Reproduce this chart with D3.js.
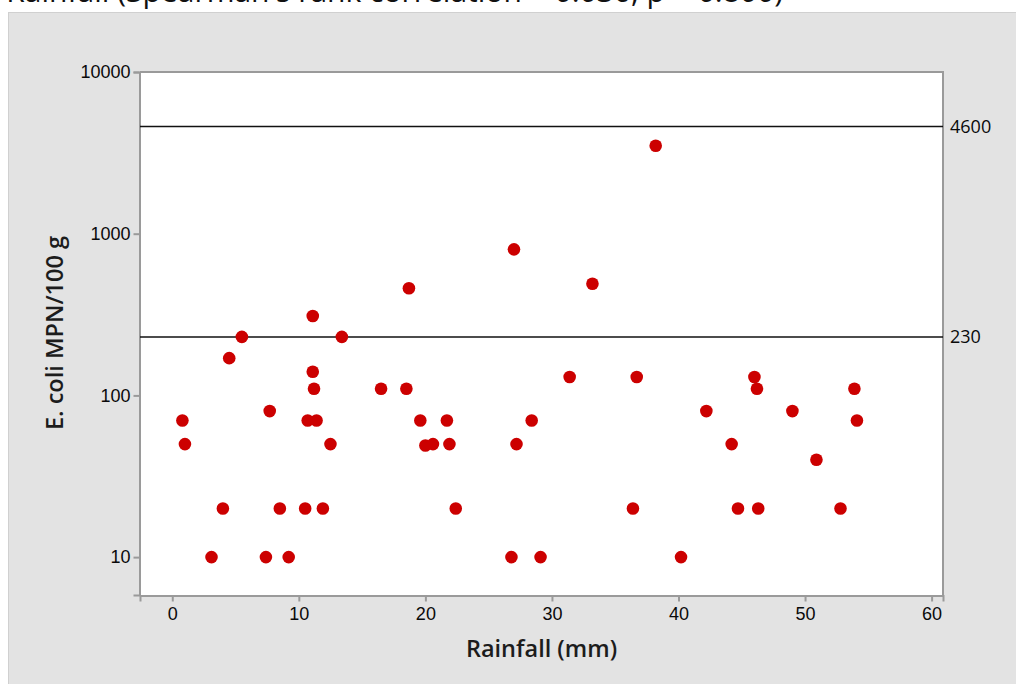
<!DOCTYPE html>
<html>
<head>
<meta charset="utf-8">
<script src="https://cdn.jsdelivr.net/npm/d3@7"></script>
<style>
  body { margin: 0; background: #fff; }
  svg { display: block; font-family: "Open Sans", "DejaVu Sans", sans-serif; }
  .tick text { font-size: 18px; fill: #0a0a0a; }
</style>
</head>
<body>
<div class="diagram"></div>
<script>
// rainfall (mm) and E. coli MPN/100 g
const rainfall = [0.8, 1.0, 3.1, 4.0, 4.5, 5.5, 7.4, 7.7, 8.5, 9.2,
  10.5, 10.7, 11.1, 11.1, 11.2, 11.4, 11.9, 12.5, 13.4, 16.5,
  18.5, 18.7, 19.6, 20.0, 20.6, 21.7, 21.9, 22.4, 26.8, 27.0,
  27.2, 28.4, 29.1, 31.4, 33.2, 36.4, 36.7, 38.2, 40.2, 42.2,
  44.2, 44.7, 46.0, 46.2, 46.3, 49.0, 50.9, 52.8, 53.9, 54.1];
const ecoli = [70, 50, 10, 20, 170, 230, 10, 80, 20, 10,
  20, 70, 310, 140, 110, 70, 20, 50, 230, 110,
  110, 460, 70, 49, 50, 70, 50, 20, 10, 800,
  50, 70, 10, 130, 490, 20, 130, 3500, 10, 80,
  50, 20, 130, 110, 20, 80, 40, 20, 110, 70];
const refLines = [4600, 230];
const xTicks = [0, 10, 20, 30, 40, 50, 60];
const yTicks = [10, 100, 1000, 10000];

const w = 1016, h = 684,
  pLeft = 140, pRight = 943, pTop = 72, pBottom = 595;

const svg = d3.select(".diagram")
  .append("svg")
  .attr("width", w)
  .attr("height", h);

// heading, cut off at the top edge as in the source picture
svg.append("text")
  .attr("x", 783)
  .attr("y", 1.5)
  .attr("text-anchor", "end")
  .style("font-size", "30px")
  .style("fill", "#111")
  .text("E. coli vs Rainfall (Spearman's rank correlation = 0.036, p = 0.800)");

// grey panel
svg.append("rect")
  .attr("x", 8.5)
  .attr("y", 12.5)
  .attr("width", w)
  .attr("height", h)
  .attr("fill", "#e3e3e3")
  .attr("stroke", "#d0d0d0");

const xScale = d3.scaleLinear()
  .domain([-2.55, 60.9])
  .range([pLeft, pRight]);
const yScale = d3.scaleLog()
  .domain([5.83, 10000])
  .range([pBottom, pTop]);

svg.append("rect")
  .attr("x", pLeft)
  .attr("y", pTop)
  .attr("width", pRight - pLeft)
  .attr("height", pBottom - pTop)
  .attr("fill", "#fff");

const xAxis = d3.axisBottom(xScale)
  .tickValues(xTicks)
  .tickFormat(d3.format("d"))
  .tickSizeOuter(0)
  .tickSize(6)
  .tickPadding(6);
const yAxis = d3.axisLeft(yScale)
  .tickValues(yTicks)
  .tickFormat(d3.format("d"))
  .tickSizeOuter(0)
  .tickSize(6)
  .tickPadding(3);

svg.append("g")
  .attr("transform", "translate(0," + (pBottom + 0.5) + ")")
  .call(xAxis)
  .call(g => g.selectAll("line, path").attr("stroke", "#9a9a9a").attr("stroke-width", 2));
svg.append("g")
  .attr("transform", "translate(" + (pLeft - 0.5) + ",0)")
  .call(yAxis)
  .call(g => g.selectAll("line, path").attr("stroke", "#9a9a9a").attr("stroke-width", 2));

// right and top border
svg.append("path")
  .attr("d", "M" + pLeft + "," + pTop + "H" + pRight + "V" + pBottom)
  .attr("fill", "none")
  .attr("stroke", "#9a9a9a")
  .attr("stroke-width", 2);

// reference lines
svg.selectAll(".ref")
  .data(refLines)
  .enter()
  .append("line")
  .attr("class", "ref")
  .attr("x1", pLeft)
  .attr("x2", pRight)
  .attr("y1", d => yScale(d))
  .attr("y2", d => yScale(d))
  .attr("stroke", "#111")
  .attr("stroke-width", 1.5);
svg.selectAll(".reflabel")
  .data(refLines)
  .enter()
  .append("text")
  .attr("class", "reflabel")
  .attr("x", pRight + 7)
  .attr("y", d => yScale(d) + 6)
  .style("font-size", "18px")
  .style("fill", "#0a0a0a")
  .text(d => d);

svg.selectAll("circle")
  .data(rainfall)
  .enter()
  .append("circle")
  .attr("cx", d => xScale(d))
  .attr("cy", (d, i) => yScale(ecoli[i]))
  .attr("r", 6.3)
  .attr("fill", "#cc0000");

svg.append("text")
  .attr("x", (pLeft + pRight) / 2)
  .attr("y", 657)
  .attr("text-anchor", "middle")
  .style("font-size", "23.5px")
  .style("font-weight", 600)
  .style("fill", "#1c1c1c")
  .text("Rainfall (mm)");
svg.append("text")
  .attr("transform", "rotate(-90)")
  .attr("x", -333)
  .attr("y", 63)
  .attr("text-anchor", "middle")
  .style("font-size", "23.5px")
  .style("font-weight", 600)
  .style("fill", "#1c1c1c")
  .text("E. coli MPN/100 g");
</script>
</body>
</html>
